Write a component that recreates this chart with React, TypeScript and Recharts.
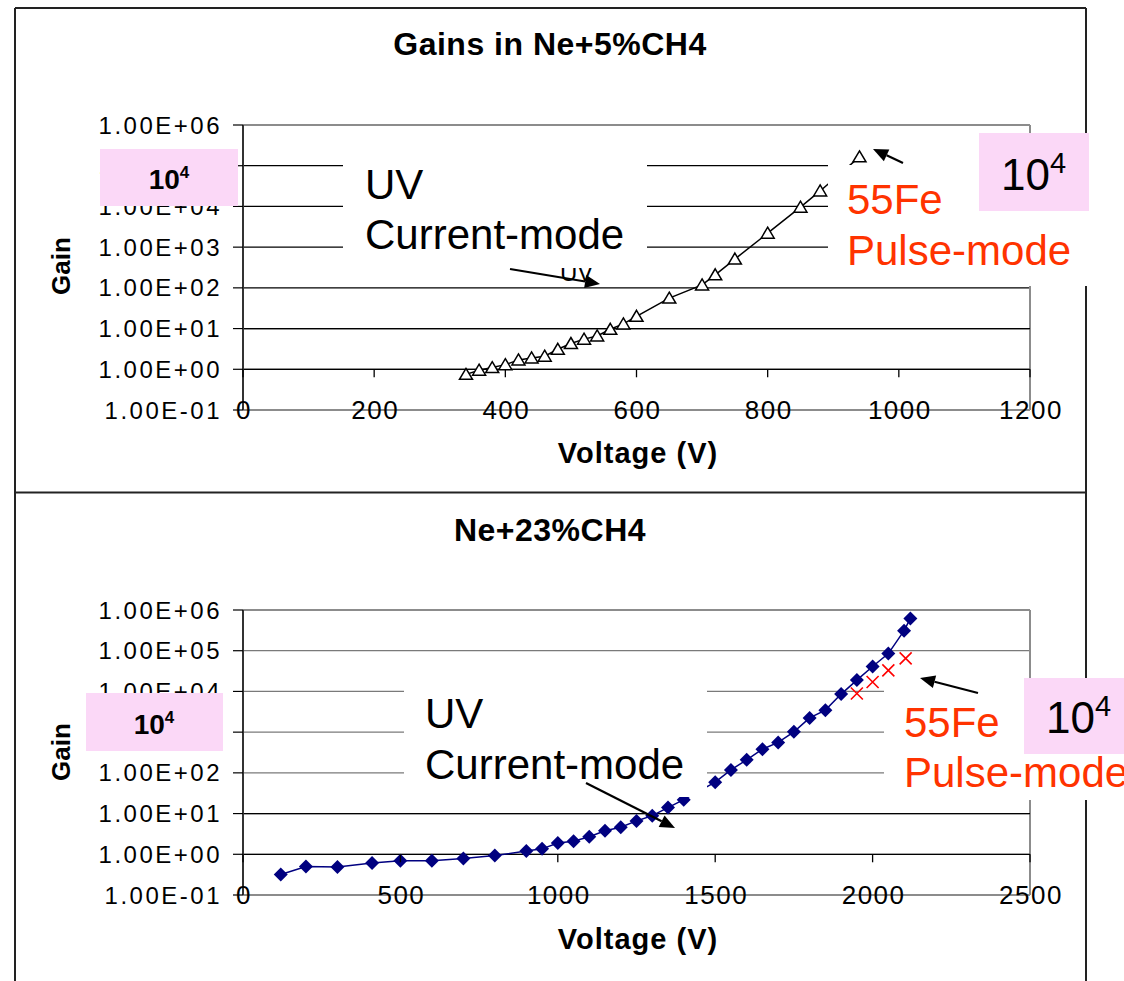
import React from "react";
import { LineChart, Line, XAxis, YAxis, CartesianGrid, ReferenceLine } from "recharts";

const FONT = "'Liberation Sans', Arial, Helvetica, sans-serif";

// ---- data ----
const TOP_TITLE = "Gains in Ne+5%CH4";
const BOTTOM_TITLE = "Ne+23%CH4";
const X_TITLE = "Voltage (V)";
const Y_TITLE = "Gain";

const TOP_VOLTAGE = [340, 360, 380, 400, 420, 440, 460, 480, 500, 520, 540, 560, 580, 600, 650, 700, 720, 750, 800, 850, 880, 940];
const TOP_GAIN = [0.75, 0.95, 1.1, 1.3, 1.7, 1.9, 2.1, 3.1, 4.3, 5.5, 6.6, 9.6, 13, 20, 56, 118, 209, 510, 2200, 9600, 24000, 165000];

const BOTTOM_VOLTAGE = [120, 200, 300, 410, 500, 600, 700, 800, 900, 950, 1000, 1050, 1100, 1150, 1200, 1250, 1300, 1350, 1400, 1500, 1550, 1600, 1650, 1700, 1750, 1800, 1850, 1900, 1950, 2000, 2050, 2100, 2120];
const BOTTOM_GAIN = [0.32, 0.5, 0.49, 0.61, 0.69, 0.69, 0.79, 0.93, 1.2, 1.36, 1.9, 2.1, 2.7, 3.8, 4.6, 6.6, 8.9, 14, 22, 59, 118, 209, 380, 560, 1020, 2240, 3470, 8600, 19000, 41000, 85000, 310000, 620000];

const FE_VOLTAGE = [1950, 2000, 2050, 2105];
const FE_GAIN = [8900, 17000, 33000, 65000];

const GAIN_TICKS = [0.1, 1, 10, 100, 1000, 10000, 100000, 1000000];
const GAIN_TICK_LABELS = ["1.00E-01", "1.00E+00", "1.00E+01", "1.00E+02", "1.00E+03", "1.00E+04", "1.00E+05", "1.00E+06"];
const TOP_X_TICKS = [0, 200, 400, 600, 800, 1000, 1200];
const BOTTOM_X_TICKS = [0, 500, 1000, 1500, 2000, 2500];

const topData = TOP_VOLTAGE.map((v, i) => ({ v, g: TOP_GAIN[i] }));
const bottomData = BOTTOM_VOLTAGE.map((v, i) => ({ v, g: BOTTOM_GAIN[i] }));
const feData = FE_VOLTAGE.map((v, i) => ({ v, g: FE_GAIN[i] }));

// ---- layout ----
const W = 1124;
const PLOT_H = 285;
const DECADE = PLOT_H / 7;

const YTick = (props: any) => {
  const { x, y, payload } = props;
  const idx = GAIN_TICKS.indexOf(payload.value);
  return (
    <text x={x + 2} y={y} dy="0.36em" textAnchor="end" fontSize={24} letterSpacing={2.5} fill="#000" fontFamily={FONT}>
      {GAIN_TICK_LABELS[idx]}
    </text>
  );
};

const XTick = (props: any) => {
  const { x, y, payload } = props;
  return (
    <g>
      <line x1={x} x2={x} y1={y - DECADE} y2={y - DECADE + 8} stroke="#000" strokeWidth={1.3} />
      <text x={x + 1} y={y} dy="0.36em" textAnchor="middle" fontSize={26} letterSpacing={1.5} fill="#000" fontFamily={FONT}>
        {payload.value}
      </text>
    </g>
  );
};

const triangleDot = (p: any) => {
  const { cx, cy, index } = p;
  if (cx == null || cy == null) return <g key={index} />;
  return (
    <path
      key={index}
      d={`M${cx},${cy - 6} L${cx + 6.5},${cy + 5} L${cx - 6.5},${cy + 5} Z`}
      fill="#fff"
      stroke="#000"
      strokeWidth={1.5}
    />
  );
};

const diamondDot = (p: any) => {
  const { cx, cy, index } = p;
  if (cx == null || cy == null) return <g key={index} />;
  return <path key={index} d={`M${cx},${cy - 7} L${cx + 7},${cy} L${cx},${cy + 7} L${cx - 7},${cy} Z`} fill="#000080" />;
};

const crossDot = (p: any) => {
  const { cx, cy, index } = p;
  if (cx == null || cy == null) return <g key={index} />;
  return (
    <path key={index} d={`M${cx - 6},${cy - 6} L${cx + 6},${cy + 6} M${cx - 6},${cy + 6} L${cx + 6},${cy - 6}`} stroke="#ff0000" strokeWidth={1.6} fill="none" />
  );
};

function Arrow({ x1, y1, x2, y2 }: { x1: number; y1: number; x2: number; y2: number }) {
  const dx = x2 - x1;
  const dy = y2 - y1;
  const len = Math.hypot(dx, dy);
  const ux = dx / len;
  const uy = dy / len;
  const hl = 15;
  const hw = 6.5;
  const bx = x2 - ux * hl;
  const by = y2 - uy * hl;
  const px = -uy;
  const py = ux;
  return (
    <g>
      <line x1={x1} y1={y1} x2={bx} y2={by} stroke="#000" strokeWidth={2.2} />
      <polygon points={`${x2},${y2} ${bx + px * hw},${by + py * hw} ${bx - px * hw},${by - py * hw}`} fill="#000" />
    </g>
  );
}

function GainChart({
  height,
  top,
  xMax,
  xTicks,
  gridColor,
  children,
}: {
  height: number;
  top: number;
  xMax: number;
  xTicks: number[];
  gridColor: string;
  children: React.ReactNode;
}) {
  const marginBottom = height - top - PLOT_H - 30;
  return (
    <LineChart width={W} height={height} margin={{ top, right: 94, bottom: marginBottom, left: 143 }}>
      <CartesianGrid vertical={false} stroke={gridColor} strokeWidth={1.2} />
      <XAxis
        type="number"
        dataKey="v"
        domain={[0, xMax]}
        ticks={xTicks}
        interval={0}
        height={30}
        tickSize={0}
        tickMargin={0}
        tickLine={false}
        axisLine={{ stroke: "#8c8c8c", strokeWidth: 2 }}
        tick={<XTick />}
        allowDataOverflow
      />
      <YAxis
        type="number"
        dataKey="g"
        scale="log"
        domain={[0.1, 1000000]}
        ticks={GAIN_TICKS}
        interval={0}
        width={100}
        tickSize={10}
        tickMargin={13}
        tickLine={{ stroke: "#000", strokeWidth: 1.2 }}
        axisLine={{ stroke: "#333", strokeWidth: 2 }}
        tick={<YTick />}
        allowDataOverflow
      />
      <ReferenceLine y={1000000} stroke="#8c8c8c" strokeWidth={2} />
      <ReferenceLine x={xMax} stroke="#8c8c8c" strokeWidth={2} />
      <ReferenceLine y={10} stroke="#000" strokeWidth={1.2} />
      <ReferenceLine y={1} stroke="#000" strokeWidth={1.3} />
      {children}
    </LineChart>
  );
}

function PinkBox({ x, y, w, h, tx, ty, size, sup, bold, anchor }: any) {
  return (
    <g>
      <rect x={x} y={y} width={w} height={h} fill="#fbd8f7" />
      <text x={tx} y={ty} fontSize={size} fontWeight={bold ? "bold" : "normal"} textAnchor={anchor} fill="#000" fontFamily={FONT}>
        10
        <tspan fontSize={sup} dy={-size * 0.38}>4</tspan>
      </text>
    </g>
  );
}

export default function App() {
  const textStyle = { fontFamily: FONT };
  return (
    <div style={{ position: "relative", width: W, height: 981, background: "#fff", overflow: "hidden" }}>
      <style>{"body{margin:0;background:#fff}"}</style>

      <div style={{ position: "absolute", left: 0, top: 0 }}>
        <GainChart height={490} top={125} xMax={1200} xTicks={TOP_X_TICKS} gridColor="#000">
          <Line
            data={topData}
            dataKey="g"
            type="linear"
            stroke="#000"
            strokeWidth={1.5}
            dot={triangleDot}
            activeDot={false}
            isAnimationActive={false}
          />
        </GainChart>
      </div>

      <div style={{ position: "absolute", left: 0, top: 493 }}>
        <GainChart height={488} top={117} xMax={2500} xTicks={BOTTOM_X_TICKS} gridColor="#7a7a7a">
          <Line
            data={bottomData}
            dataKey="g"
            type="linear"
            stroke="#000080"
            strokeWidth={1.5}
            dot={diamondDot}
            activeDot={false}
            isAnimationActive={false}
          />
          <Line
            data={feData}
            dataKey="g"
            type="linear"
            stroke="none"
            dot={crossDot}
            activeDot={false}
            isAnimationActive={false}
          />
        </GainChart>
      </div>

      <svg width={W} height={981} style={{ position: "absolute", left: 0, top: 0, pointerEvents: "none" }}>
        {/* frame */}
        <g stroke="#222" strokeWidth={2}>
          <line x1={15} y1={8} x2={15} y2={981} />
          <line x1={1086} y1={8} x2={1086} y2={981} />
          <line x1={15} y1={8} x2={1086} y2={8} />
          <line x1={15} y1={492.5} x2={1086} y2={492.5} />
        </g>

        {/* titles */}
        <text x={550} y={55} textAnchor="middle" fontSize={32} fontWeight="bold" letterSpacing={0.5} style={textStyle}>{TOP_TITLE}</text>
        <text x={550} y={541} textAnchor="middle" fontSize={32} fontWeight="bold" letterSpacing={0.5} style={textStyle}>{BOTTOM_TITLE}</text>
        <text x={638} y={463} textAnchor="middle" fontSize={29} fontWeight="bold" letterSpacing={1} style={textStyle}>{X_TITLE}</text>
        <text x={638} y={949} textAnchor="middle" fontSize={29} fontWeight="bold" letterSpacing={1} style={textStyle}>{X_TITLE}</text>
        <text transform="translate(70,266) rotate(-90)" textAnchor="middle" fontSize={26} fontWeight="bold" style={textStyle}>{Y_TITLE}</text>
        <text transform="translate(70,752) rotate(-90)" textAnchor="middle" fontSize={26} fontWeight="bold" style={textStyle}>{Y_TITLE}</text>

        {/* remnant label under the box */}
        <text x={560} y={281} fontSize={24} style={textStyle}>UV</text>

        {/* white annotation boxes */}
        <rect x={343} y={140} width={304} height={128} fill="#fff" />
        <rect x={828} y={165} width={262} height={121} fill="#fff" />
        <rect x={404} y={668} width={303} height={129} fill="#fff" />
        <rect x={884} y={680} width={240} height={120} fill="#fff" />

        <text x={365} y={199} fontSize={42} fill="#000" style={textStyle}>UV</text>
        <text x={365} y={249} fontSize={42} fill="#000" style={textStyle}>Current-mode</text>
        <text x={847} y={214} fontSize={42} fill="#ff3300" style={textStyle}>55Fe</text>
        <text x={847} y={265} fontSize={42} fill="#ff3300" style={textStyle}>Pulse-mode</text>

        <text x={425} y={728} fontSize={42} fill="#000" style={textStyle}>UV</text>
        <text x={425} y={779} fontSize={42} fill="#000" style={textStyle}>Current-mode</text>
        <text x={904} y={737} fontSize={42} fill="#ff3300" style={textStyle}>55Fe</text>
        <text x={904} y={787} fontSize={42} fill="#ff3300" style={textStyle}>Pulse-mode</text>

        {/* pink boxes */}
        <PinkBox x={100} y={149} w={138} h={57} tx={169} ty={189} size={28} sup={17} bold anchor="middle" />
        <PinkBox x={979} y={133} w={110} h={78} tx={1001} ty={190} size={44} sup={29} anchor="start" />
        <PinkBox x={86} y={693} w={137} h={58} tx={154} ty={734} size={28} sup={17} bold anchor="middle" />
        <PinkBox x={1024} y={678} w={100} h={76} tx={1046} ty={733} size={44} sup={29} anchor="start" />

        {/* arrows */}
        <Arrow x1={510} y1={269} x2={600} y2={284} />
        <Arrow x1={903} y1={163} x2={873} y2={149} />
        <Arrow x1={586} y1={783} x2={675} y2={828} />
        <Arrow x1={978} y1={693} x2={920} y2={678} />
      </svg>
    </div>
  );
}
